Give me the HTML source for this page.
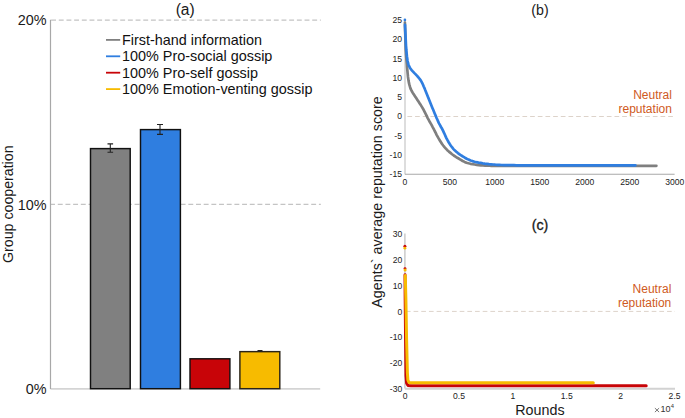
<!DOCTYPE html>
<html><head><meta charset="utf-8"><style>
html,body{margin:0;padding:0;background:#fff;}
body{width:685px;height:418px;overflow:hidden;font-family:"Liberation Sans", sans-serif;}
svg{position:absolute;left:0;top:0;}
</style></head><body>
<svg width="685" height="418" viewBox="0 0 685 418" font-family='"Liberation Sans", sans-serif'>

<g id="pa">
<line x1="51.1" y1="20.1" x2="320.8" y2="20.1" stroke="#c4c4c4" stroke-width="1.2" stroke-dasharray="4.9 2.78"/>
<line x1="50.1" y1="204.4" x2="320.8" y2="204.4" stroke="#c4c4c4" stroke-width="1.2" stroke-dasharray="4.9 2.78"/>
<line x1="320.2" y1="388.8" x2="50.5" y2="388.8" stroke="#d4d4d4" stroke-width="1.8"/>
<line x1="50.5" y1="19.8" x2="50.5" y2="389" stroke="#a8a8a8" stroke-width="1.2"/>
<rect x="90.50" y="148.60" width="39.70" height="240.10" fill="#808080" stroke="#111" stroke-width="1.45"/>
<rect x="140.50" y="129.60" width="39.90" height="259.10" fill="#2f7ee0" stroke="#111" stroke-width="1.45"/>
<rect x="190.00" y="358.80" width="39.90" height="29.90" fill="#c80408" stroke="#151010" stroke-width="1.45"/>
<rect x="239.90" y="351.65" width="39.90" height="37.05" fill="#f7bb00" stroke="#2a2418" stroke-width="1.45"/>
<path d="M110.3,143.9V152.3M107.5,143.9H113.1M107.5,152.3H113.1" stroke="#222" stroke-width="1.1" fill="none"/>
<path d="M160.0,124.5V134.4M157.0,124.5H163.0M157.0,134.4H163.0" stroke="#222" stroke-width="1.1" fill="none"/>
<path d="M260.0,350.6V351.4M257.5,350.6H262.5M257.5,351.4H262.5" stroke="#222" stroke-width="1.1" fill="none"/>
<text x="46.6" y="25.4" font-size="14.4" text-anchor="end" fill="#1a1a1a">20%</text>
<text x="46.6" y="209.5" font-size="14.4" text-anchor="end" fill="#1a1a1a">10%</text>
<text x="46.6" y="393.8" font-size="14.4" text-anchor="end" fill="#1a1a1a">0%</text>
<text transform="translate(13.4,204.2) rotate(-90)" font-size="14.2" text-anchor="middle" fill="#1a1a1a">Group cooperation</text>
<text x="185.2" y="14.8" font-size="15.6" text-anchor="middle" fill="#1a1a1a">(a)</text>
<line x1="106" y1="39.9" x2="120.2" y2="39.9" stroke="#808080" stroke-width="1.8"/>
<text x="122.0" y="44.7" font-size="14.4" fill="#111">First-hand information</text>
<line x1="106" y1="56.3" x2="120.2" y2="56.3" stroke="#2f7ee0" stroke-width="1.8"/>
<text x="122.0" y="61.1" font-size="14.4" fill="#111">100% Pro-social gossip</text>
<line x1="106" y1="72.7" x2="120.2" y2="72.7" stroke="#c80408" stroke-width="1.8"/>
<text x="122.0" y="77.5" font-size="14.4" fill="#111">100% Pro-self gossip</text>
<line x1="106" y1="89.1" x2="120.2" y2="89.1" stroke="#f7bb00" stroke-width="1.8"/>
<text x="122.0" y="93.9" font-size="14.4" fill="#111">100% Emotion-venting gossip</text>
</g>
<g id="pb">
<line x1="405.0" y1="19.8" x2="405.0" y2="174.3" stroke="#dadada" stroke-width="1.8"/>
<line x1="404.9" y1="174.3" x2="674.6" y2="174.3" stroke="#a8a8a8" stroke-width="1.1"/>
<line x1="407.4" y1="116.5" x2="673" y2="116.5" stroke="#ddd3ca" stroke-width="1" stroke-dasharray="4.7 2.97"/>
<text x="402.0" y="23.1" font-size="8.6" text-anchor="end" fill="#222">25</text>
<text x="402.0" y="42.4" font-size="8.6" text-anchor="end" fill="#222">20</text>
<text x="402.0" y="61.6" font-size="8.6" text-anchor="end" fill="#222">15</text>
<text x="402.0" y="80.8" font-size="8.6" text-anchor="end" fill="#222">10</text>
<text x="402.0" y="100.1" font-size="8.6" text-anchor="end" fill="#222">5</text>
<text x="402.0" y="119.3" font-size="8.6" text-anchor="end" fill="#222">0</text>
<text x="402.0" y="138.6" font-size="8.6" text-anchor="end" fill="#222">-5</text>
<text x="402.0" y="157.8" font-size="8.6" text-anchor="end" fill="#222">-10</text>
<text x="402.0" y="177.1" font-size="8.6" text-anchor="end" fill="#222">-15</text>
<text x="404.8" y="184.5" font-size="8.6" text-anchor="middle" fill="#222">0</text>
<text x="449.8" y="184.5" font-size="8.6" text-anchor="middle" fill="#222">500</text>
<text x="494.8" y="184.5" font-size="8.6" text-anchor="middle" fill="#222">1000</text>
<text x="539.8" y="184.5" font-size="8.6" text-anchor="middle" fill="#222">1500</text>
<text x="584.8" y="184.5" font-size="8.6" text-anchor="middle" fill="#222">2000</text>
<text x="629.8" y="184.5" font-size="8.6" text-anchor="middle" fill="#222">2500</text>
<text x="674.8" y="184.5" font-size="8.6" text-anchor="middle" fill="#222">3000</text>
<text x="540" y="14.6" font-size="14.2" text-anchor="middle" fill="#1a1a1a">(b)</text>
<text x="671.9" y="98.5" font-size="12" text-anchor="end" fill="#cf5a22">Neutral</text>
<text x="671.9" y="112.9" font-size="12" text-anchor="end" fill="#cf5a22">reputation</text>
<path d="M404.9,22.5 L405.0,25.0 L405.0,26.8 L405.1,28.8 L405.1,30.9 L405.2,33.0 L405.3,35.1 L405.3,37.2 L405.4,39.3 L405.4,41.4 L405.5,43.5 L405.6,45.6 L405.6,47.7 L405.7,49.8 L405.9,51.9 L406.0,54.0 L406.2,56.1 L406.3,58.2 L406.5,60.3 L406.7,62.3 L406.9,64.4 L407.0,66.5 L407.2,68.6 L407.4,70.7 L407.6,72.8 L407.8,74.9 L408.0,77.0 L408.3,79.1 L408.6,81.1 L409.0,83.2 L409.5,85.2 L410.1,87.2 L410.8,89.2 L411.7,91.0 L412.8,92.9 L413.9,94.6 L415.1,96.4 L416.2,98.1 L417.4,99.9 L418.5,101.6 L419.7,103.4 L420.8,105.1 L421.9,106.9 L423.0,108.7 L424.0,110.6 L424.9,112.4 L425.9,114.3 L426.8,116.2 L427.7,118.1 L428.7,119.9 L429.7,121.8 L430.8,123.6 L431.8,125.4 L432.8,127.3 L433.8,129.1 L434.7,131.0 L435.7,132.9 L436.6,134.8 L437.6,136.6 L438.6,138.4 L439.7,140.2 L440.8,142.0 L441.9,143.8 L443.2,145.5 L444.5,147.1 L445.9,148.7 L447.3,150.2 L448.9,151.6 L450.5,152.9 L452.1,154.2 L453.8,155.5 L455.5,156.6 L457.3,157.8 L459.1,158.8 L460.9,159.9 L462.7,161.0 L464.6,161.9 L466.5,162.7 L468.5,163.3 L470.5,163.8 L472.6,164.2 L474.7,164.5 L476.7,164.8 L478.8,165.1 L480.9,165.3 L483.0,165.4 L485.1,165.6 L487.2,165.7 L489.3,165.7 L491.4,165.8 L493.5,165.8 L495.6,165.8 L497.7,165.9 L499.8,165.9 L501.9,165.9 L504.0,165.9 L506.1,165.9 L508.2,165.9 L510.3,165.9 L512.4,165.9 L514.5,165.9 L516.6,165.9 L518.7,165.9 L520.8,165.9 L522.9,165.9 L525.0,165.9 L527.1,165.9 L529.2,165.9 L531.3,165.9 L533.4,165.9 L535.5,165.9 L537.6,165.9 L539.7,165.9 L541.8,165.9 L543.9,165.9 L546.0,165.9 L548.1,165.9 L550.2,165.9 L552.3,165.9 L554.4,165.9 L556.5,165.9 L558.6,165.9 L560.7,165.9 L562.8,165.9 L564.9,165.9 L567.0,165.9 L569.1,165.9 L571.2,165.9 L573.3,165.9 L575.4,165.9 L577.5,165.9 L579.6,165.8 L581.7,165.8 L583.8,165.8 L585.9,165.8 L588.0,165.8 L590.1,165.8 L592.2,165.8 L594.3,165.8 L596.4,165.8 L598.5,165.8 L600.6,165.8 L602.7,165.8 L604.8,165.8 L606.9,165.8 L609.0,165.8 L611.1,165.8 L613.2,165.8 L615.3,165.8 L617.4,165.8 L619.5,165.8 L621.6,165.8 L623.7,165.8 L625.8,165.8 L627.9,165.8 L630.0,165.8 L632.1,165.8 L634.2,165.8 L636.3,165.8 L638.4,165.8 L640.5,165.8 L642.6,165.8 L644.7,165.8 L646.8,165.8 L648.9,165.8 L651.0,165.8 L652.9,165.8 L656.4,165.8" fill="none" stroke="#7f7f7f" stroke-width="2.7" stroke-linejoin="round" stroke-linecap="round"/>
<path d="M405.0,24.8 L405.1,27.3 L405.2,29.1 L405.3,31.1 L405.4,33.2 L405.5,35.3 L405.6,37.4 L405.7,39.5 L405.8,41.6 L405.9,43.7 L406.0,45.8 L406.2,47.9 L406.3,50.0 L406.5,52.1 L406.7,54.1 L406.9,56.2 L407.2,58.3 L407.5,60.4 L407.9,62.4 L408.4,64.4 L409.2,66.4 L410.2,68.2 L411.4,69.8 L412.8,71.4 L414.2,72.9 L415.7,74.4 L417.1,75.9 L418.5,77.5 L419.8,79.1 L421.0,80.8 L422.0,82.6 L422.9,84.5 L423.7,86.5 L424.6,88.4 L425.3,90.3 L426.1,92.3 L426.9,94.2 L427.7,96.2 L428.4,98.1 L429.2,100.1 L430.0,102.1 L430.8,104.0 L431.6,105.9 L432.4,107.9 L433.2,109.8 L434.0,111.7 L434.8,113.7 L435.6,115.6 L436.4,117.6 L437.3,119.5 L438.1,121.4 L439.0,123.3 L440.0,125.1 L441.0,127.0 L442.1,128.8 L443.0,130.7 L443.9,132.6 L444.8,134.5 L445.6,136.4 L446.5,138.3 L447.5,140.2 L448.5,142.0 L449.6,143.8 L450.7,145.5 L452.0,147.2 L453.3,148.8 L454.7,150.3 L456.3,151.7 L457.9,153.1 L459.6,154.3 L461.3,155.5 L463.1,156.6 L464.9,157.7 L466.7,158.7 L468.6,159.6 L470.5,160.4 L472.5,161.1 L474.5,161.7 L476.5,162.2 L478.6,162.6 L480.7,162.9 L482.7,163.3 L484.8,163.6 L486.9,163.8 L489.0,164.1 L491.1,164.3 L493.2,164.5 L495.3,164.7 L497.4,164.8 L499.5,164.9 L501.5,165.0 L503.6,165.1 L505.7,165.1 L507.8,165.1 L509.9,165.2 L512.0,165.2 L514.1,165.2 L516.2,165.3 L518.3,165.3 L520.4,165.3 L522.5,165.3 L524.6,165.3 L526.7,165.3 L528.8,165.3 L530.9,165.3 L533.0,165.3 L535.1,165.3 L537.2,165.3 L539.3,165.3 L541.4,165.3 L543.5,165.3 L545.6,165.3 L547.7,165.3 L549.8,165.3 L551.9,165.3 L554.0,165.3 L556.1,165.3 L558.2,165.3 L560.3,165.3 L562.4,165.3 L564.5,165.3 L566.6,165.3 L568.7,165.3 L570.8,165.3 L572.9,165.3 L575.0,165.3 L577.1,165.3 L579.2,165.3 L581.3,165.3 L583.4,165.3 L585.5,165.3 L587.6,165.3 L589.7,165.3 L591.8,165.3 L593.9,165.3 L596.0,165.3 L598.1,165.3 L600.2,165.3 L602.3,165.3 L604.4,165.3 L606.5,165.3 L608.6,165.3 L610.7,165.3 L612.8,165.3 L614.9,165.3 L617.0,165.3 L619.1,165.3 L621.2,165.3 L623.3,165.3 L625.4,165.3 L627.5,165.3 L629.6,165.3 L631.6,165.3 L633.3,165.3 L635.4,165.3" fill="none" stroke="#2f7ee0" stroke-width="2.7" stroke-linejoin="round" stroke-linecap="round"/>
<circle cx="404.9" cy="19.9" r="1.35" fill="#2f7ee0"/>
</g>
<g id="pc">
<line x1="404.9" y1="233.4" x2="404.9" y2="388.6" stroke="#cbcbcb" stroke-width="1.5"/>
<line x1="404.9" y1="388.8" x2="675" y2="388.8" stroke="#d2d2d2" stroke-width="2"/>
<line x1="405.9" y1="311.4" x2="675" y2="311.4" stroke="#ddd3ca" stroke-width="1" stroke-dasharray="4.7 2.98"/>
<text x="402.2" y="237.3" font-size="8.6" text-anchor="end" fill="#222">30</text>
<text x="402.2" y="263.1" font-size="8.6" text-anchor="end" fill="#222">20</text>
<text x="402.2" y="288.8" font-size="8.6" text-anchor="end" fill="#222">10</text>
<text x="402.2" y="314.6" font-size="8.6" text-anchor="end" fill="#222">0</text>
<text x="402.2" y="340.3" font-size="8.6" text-anchor="end" fill="#222">-10</text>
<text x="402.2" y="366.1" font-size="8.6" text-anchor="end" fill="#222">-20</text>
<text x="402.2" y="391.8" font-size="8.6" text-anchor="end" fill="#222">-30</text>
<text x="405.1" y="398.9" font-size="8.6" text-anchor="middle" fill="#222">0</text>
<text x="459.0" y="398.9" font-size="8.6" text-anchor="middle" fill="#222">0.5</text>
<text x="512.9" y="398.9" font-size="8.6" text-anchor="middle" fill="#222">1</text>
<text x="566.8" y="398.9" font-size="8.6" text-anchor="middle" fill="#222">1.5</text>
<text x="620.7" y="398.9" font-size="8.6" text-anchor="middle" fill="#222">2</text>
<text x="674.6" y="398.9" font-size="8.6" text-anchor="middle" fill="#222">2.5</text>
<path d="M654.9,408.1L659.1,412.1M659.1,408.1L654.9,412.1" stroke="#555" stroke-width="0.8" fill="none"/>
<text x="660.6" y="412.4" font-size="9" fill="#333">10</text>
<text x="670.7" y="407.7" font-size="5.8" fill="#333">4</text>
<text x="539.9" y="415.1" font-size="14.3" text-anchor="middle" fill="#1a1a1a">Rounds</text>
<text x="540" y="229.6" font-size="14.3" text-anchor="middle" fill="#1a1a1a" stroke="#1a1a1a" stroke-width="0.3">(c)</text>
<text x="671.3" y="293.3" font-size="12" text-anchor="end" fill="#cf5a22">Neutral</text>
<text x="671.3" y="307.2" font-size="12" text-anchor="end" fill="#cf5a22">reputation</text>
<polyline points="405.0,274.7 405.2,300.0 405.6,340.0 406.0,376.0 406.6,383.2 408.0,385.4 411.0,385.7 646.2,385.7" fill="none" stroke="#c80408" stroke-width="3" stroke-linejoin="round" stroke-linecap="round"/>
<polyline points="405.2,275.6 405.4,280.0 405.9,300.0 406.6,340.0 407.4,373.0 407.9,380.2 409.0,382.5 412.0,382.7 593.3,382.7" fill="none" stroke="#f7bb00" stroke-width="3" stroke-linejoin="round" stroke-linecap="round"/>
<circle cx="404.9" cy="246.2" r="1.5" fill="#c80408"/>
<circle cx="404.9" cy="248.2" r="1.4" fill="#f7bb00"/>
<circle cx="405.0" cy="268.6" r="1.4" fill="#c80408"/>
<circle cx="405.1" cy="270.0" r="1.5" fill="#f7bb00"/>
</g>
<text transform="translate(382.3,202.0) rotate(-90)" font-size="14.3" text-anchor="middle" fill="#1a1a1a">Agents` average reputation score</text>
</svg>
</body></html>
